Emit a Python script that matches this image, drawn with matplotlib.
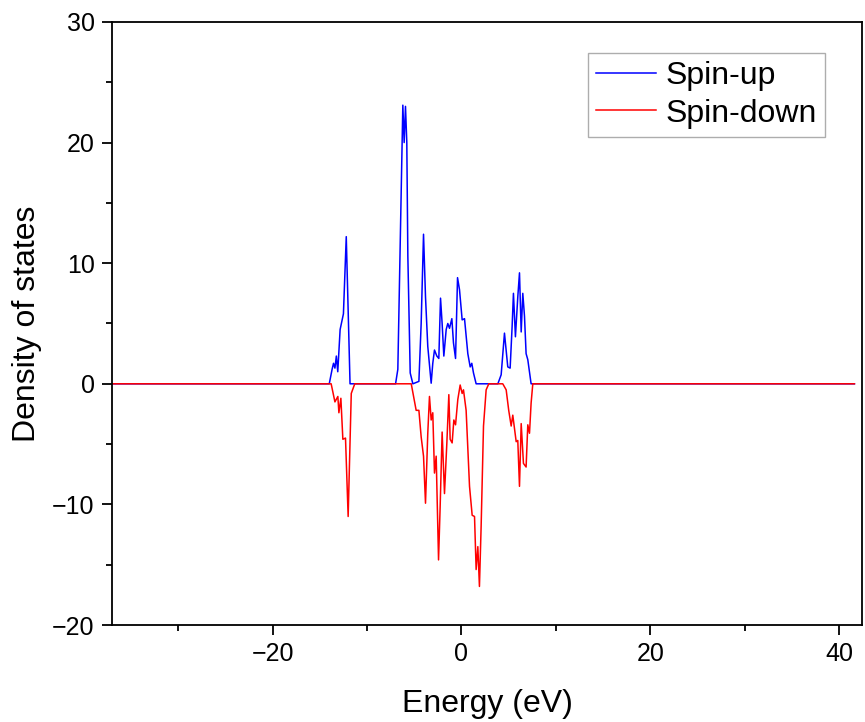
import matplotlib
matplotlib.use('Agg')
import matplotlib.pyplot as plt
import numpy as np
from matplotlib.ticker import MultipleLocator

plt.rcParams['font.family'] = ['Liberation Sans', 'DejaVu Sans']

# 自旋向上 (Spin-up) 能量/态密度
e_up = [-37.0, -14.0, -13.7, -13.55, -13.4, -13.25, -13.1, -12.85, -12.5, -12.2, -11.8,
        -6.98, -6.74, -6.21, -6.07, -5.93, -5.79, -5.68, -5.43, -5.15,
        -4.51, -4.27, -4.02, -3.81, -3.57, -3.21, -3.04, -2.86, -2.61, -2.4, -2.22,
        -2.05, -1.87, -1.62, -1.45, -1.27, -1.02, -0.85, -0.63, -0.42, -0.21, 0.07,
        0.32, 0.67, 0.92, 1.09, 1.27, 1.55,
        3.85, 4.2, 4.55, 4.9, 5.15, 5.36, 5.5, 5.71, 5.96, 6.14, 6.32, 6.49, 6.67,
        6.84, 7.02, 7.37, 41.6]
dos_up = [0, 0, 1.2, 1.7, 1.3, 2.3, 1.0, 4.5, 5.8, 12.2, 0,
          0, 1.2, 23.1, 20.0, 23.0, 20.0, 10.6, 0.9, 0,
          0.2, 5.0, 12.4, 7.2, 3.1, 0.05, 1.7, 2.8, 2.3, 2.1, 7.1,
          5.0, 2.3, 4.5, 5.0, 4.6, 5.4, 3.4, 2.1, 8.8, 7.8, 5.3,
          5.4, 2.5, 1.4, 1.7, 0.9, 0,
          0, 0.75, 4.2, 1.4, 1.3, 4.75, 7.5, 3.9, 7.2, 9.2, 4.3, 7.5, 5.6,
          2.5, 2.0, 0, 0]

# 自旋向下 (Spin-down)
e_dn = [-37.0, -13.8, -13.4, -13.09, -12.98, -12.77, -12.56, -12.28, -12.0, -11.67, -11.3,
        -5.32, -4.8, -4.51, -4.27, -4.02, -3.81, -3.57, -3.39, -3.21, -3.04, -2.86,
        -2.68, -2.43, -2.26, -2.05, -1.8, -1.55, -1.34, -1.2, -0.99, -0.81, -0.63,
        -0.39, -0.14, 0.07, 0.21, 0.49, 0.85, 1.13, 1.38, 1.55, 1.73, 1.9, 2.08,
        2.33, 2.61, 2.89,
        4.37, 4.73, 5.0, 5.26, 5.43, 5.79, 5.96, 6.14, 6.32, 6.56, 6.84, 7.02, 7.2,
        7.37, 7.55, 41.6]
dos_dn = [0, 0, -1.5, -1.05, -2.4, -1.2, -4.6, -4.5, -11.0, -0.8, 0,
          0, -2.2, -2.2, -4.4, -6.0, -9.9, -4.1, -1.05, -3.0, -2.4, -7.4,
          -6.0, -14.6, -10.2, -4.0, -9.1, -4.9, -0.9, -4.6, -4.9, -3.0, -3.4,
          -1.3, -0.1, -0.8, -0.5, -2.2, -8.5, -10.9, -11.0, -15.4, -13.5, -16.8, -11.8,
          -3.5, -0.5, 0,
          0, -0.5, -2.2, -3.5, -2.6, -4.8, -4.7, -8.5, -3.3, -6.6, -6.9, -3.4, -4.1,
          -1.6, 0, 0]

fig = plt.figure(figsize=(8.65, 7.22), dpi=100)
ax = fig.add_axes([0.1295, 0.1343, 0.8670, 0.8353])

ax.plot(e_up, dos_up, color='#0000FF', lw=1.1, label='Spin-up')
ax.plot(e_dn, dos_dn, color='#FF0000', lw=1.1, label='Spin-down')

ax.set_xlim(-37.0, 42.4)
ax.set_ylim(-20, 30)
ax.xaxis.set_major_locator(MultipleLocator(20))
ax.xaxis.set_minor_locator(MultipleLocator(10))
ax.yaxis.set_major_locator(MultipleLocator(10))
ax.yaxis.set_minor_locator(MultipleLocator(5))
ax.tick_params(which='major', direction='out', length=7.5, width=1.3, labelsize=18, pad=5)
ax.tick_params(which='minor', direction='out', length=4, width=1.3)
for s in ax.spines.values():
    s.set_linewidth(1.3)

ax.set_xlabel('Energy (eV)', fontsize=23, labelpad=16)
ax.set_ylabel('Density of states', fontsize=23, labelpad=7)

leg = ax.legend(loc='upper right', bbox_to_anchor=(0.951, 0.949), fontsize=23,
                frameon=True, fancybox=False, handlelength=1.9, borderpad=0.25,
                labelspacing=0.25, handletextpad=0.3, borderaxespad=0.0)
leg.get_frame().set_edgecolor('#999999')
leg.get_frame().set_linewidth(1.0)

fig.savefig('out.png', dpi=100)
